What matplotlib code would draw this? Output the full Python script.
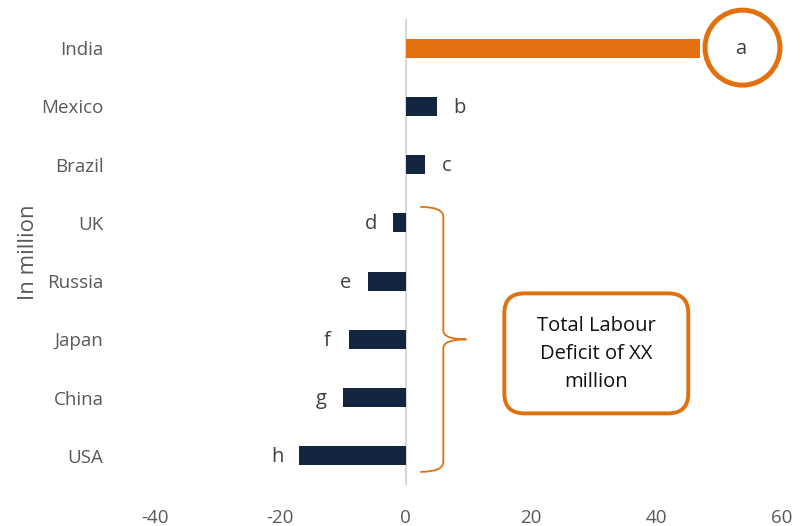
import matplotlib.pyplot as plt
from matplotlib.patches import Circle, FancyBboxPatch, PathPatch
from matplotlib.path import Path
from matplotlib.transforms import ScaledTranslation

countries = ["India", "Mexico", "Brazil", "UK", "Russia", "Japan", "China", "USA"]
values = [47, 5, 3, -2, -6, -9, -10, -17]
letters = ["a", "b", "c", "d", "e", "f", "g", "h"]
xticks = [-40, -20, 0, 20, 40, 60]

orange = "#E2700F"
navy = "#13253F"
grey = "#595959"

plt.rcParams["font.family"] = ["Open Sans", "DejaVu Sans"]

fig = plt.figure(figsize=(8.07, 5.26), dpi=100)
ax = fig.add_axes([155 / 807, 1 - 485 / 526, 627 / 807, 466 / 526])

ypos = list(range(len(countries)))
colors = [orange] + [navy] * (len(countries) - 1)
ax.barh(ypos, values, height=0.33, color=colors, zorder=3)
ax.axvline(0, color="#d9d9d9", lw=1.6, zorder=2)

ax.set_xlim(-40, 60)
ax.set_ylim(len(countries) - 0.5, -0.5)
ax.set_xticks(xticks)
ax.set_xticklabels([str(t) for t in xticks])
ax.set_yticks(ypos)
ax.set_yticklabels(countries)
ax.tick_params(axis="x", length=0, pad=17, labelsize=13.5, labelcolor=grey)
ax.tick_params(axis="y", length=0, pad=37, labelsize=13.5, labelcolor=grey)
for s in ax.spines.values():
    s.set_visible(False)

fig.text(28 / 807, 1 - 252 / 526, "In million", rotation=90, ha="center",
         va="center", fontsize=16, color=grey)

# letter tags beside each bar (India's sits inside the circle)
for i, (v, t) in enumerate(zip(values, letters)):
    if i == 0:
        continue
    off = 16 if v > 0 else -16
    ax.annotate(t, (v, i), xytext=(off, -1), textcoords="offset points",
                ha="center", va="center", fontsize=14.5, color="#404040")


def anchor(x, y):
    return fig.dpi_scale_trans + ScaledTranslation(x, y, ax.transData)


# circle highlighting India
tr = anchor(values[0], 0)
ax.add_patch(Circle((0.42, 0.005), 0.375, transform=tr, fill=False,
                    ec=orange, lw=3.6, clip_on=False, zorder=4))
ax.text(0.40, -0.01, letters[0], transform=tr, ha="center", va="center",
        fontsize=14.5, color="#404040")

# curly brace over the deficit countries
mid = (3 + 7) / 2
tr = anchor(0, mid)
H = 1.325
x0, x1, xt = 0.145, 0.375, 0.605
verts = [(x0, H), (x1, H), (x1, H - 0.10),
         (x1, 0.09), (x1, 0.0), (xt, 0.0),
         (x1, 0.0), (x1, -0.09),
         (x1, -H + 0.10), (x1, -H), (x0, -H)]
codes = [Path.MOVETO, Path.CURVE3, Path.CURVE3,
         Path.LINETO, Path.CURVE3, Path.CURVE3,
         Path.CURVE3, Path.CURVE3,
         Path.LINETO, Path.CURVE3, Path.CURVE3]
ax.add_patch(PathPatch(Path(verts, codes), transform=tr, fill=False,
                       ec=orange, lw=1.3, clip_on=False, zorder=4))

# rounded text box
cx, cy, w, h = 1.905, -0.14, 1.84, 1.20
ax.add_patch(FancyBboxPatch((cx - w / 2, cy - h / 2), w, h,
                            boxstyle="round,pad=0,rounding_size=0.2",
                            transform=tr, fc="white", ec=orange, lw=2.8,
                            clip_on=False, zorder=4))
ax.text(cx, cy - 0.005, "Total Labour\nDeficit of XX\nmillion", transform=tr,
        ha="center", va="center", fontsize=14.5, color="#111111",
        linespacing=1.55, zorder=5)

fig.savefig("out.png", dpi=100)
